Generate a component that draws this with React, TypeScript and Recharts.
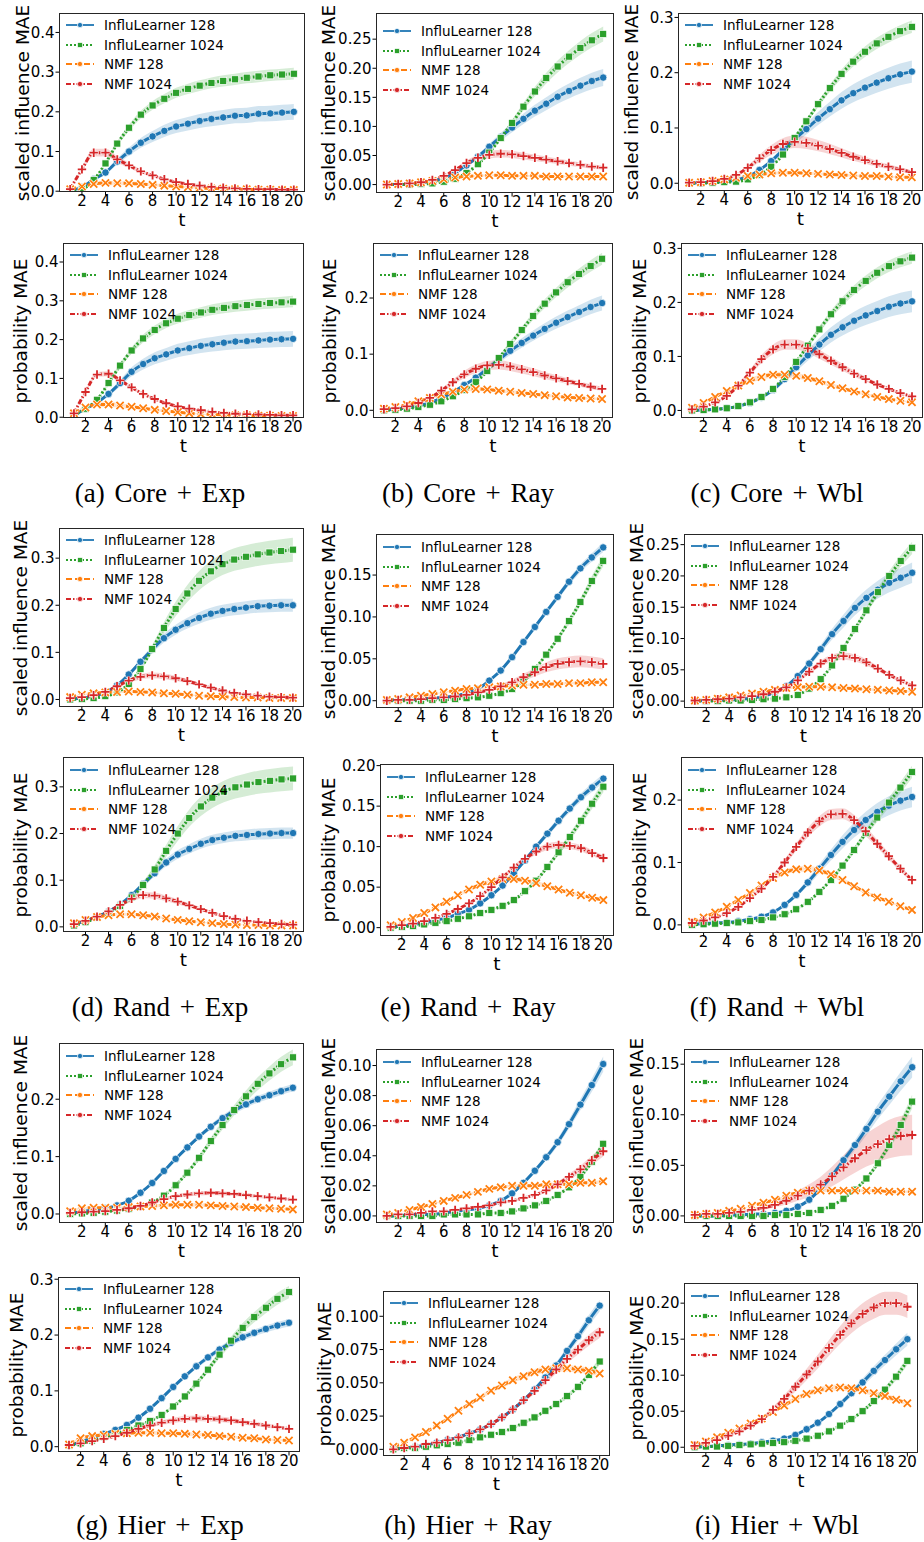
import React from 'react';
import { ComposedChart, Line, Area, XAxis, YAxis } from 'recharts';

// ---- shared axis values ----
const T = [1, 2, 3, 4, 5, 6, 7, 8, 9, 10, 11, 12, 13, 14, 15, 16, 17, 18, 19, 20];
const X_TICKS = [2, 4, 6, 8, 10, 12, 14, 16, 18, 20];

// ---- (a) Core + Exp ----
const coreExpInfIL128 = [0.002, 0.01, 0.03, 0.047, 0.075, 0.1, 0.122, 0.138, 0.152, 0.163, 0.17, 0.177, 0.182, 0.186, 0.19, 0.191, 0.195, 0.196, 0.198, 0.2];
const coreExpInfIL1024 = [0.0, 0.005, 0.028, 0.07, 0.12, 0.16, 0.193, 0.216, 0.233, 0.248, 0.258, 0.266, 0.273, 0.278, 0.282, 0.286, 0.289, 0.292, 0.294, 0.296];
const coreExpInfNMF128 = [0.005, 0.012, 0.018, 0.021, 0.02, 0.02, 0.018, 0.016, 0.014, 0.012, 0.01, 0.008, 0.007, 0.006, 0.005, 0.005, 0.004, 0.004, 0.003, 0.003];
const coreExpInfNMF1024 = [0.005, 0.055, 0.097, 0.097, 0.08, 0.065, 0.05, 0.04, 0.03, 0.023, 0.018, 0.014, 0.011, 0.009, 0.007, 0.006, 0.005, 0.005, 0.004, 0.004];
const coreExpProbIL128 = [0.005, 0.022, 0.038, 0.06, 0.088, 0.117, 0.137, 0.152, 0.162, 0.172, 0.178, 0.184, 0.188, 0.192, 0.195, 0.196, 0.198, 0.2, 0.201, 0.202];
const coreExpProbIL1024 = [0.005, 0.022, 0.045, 0.088, 0.133, 0.172, 0.203, 0.225, 0.242, 0.254, 0.263, 0.27, 0.277, 0.282, 0.286, 0.289, 0.292, 0.294, 0.296, 0.298];
const coreExpProbNMF128 = [0.01, 0.025, 0.033, 0.033, 0.03, 0.027, 0.023, 0.019, 0.016, 0.013, 0.01, 0.008, 0.007, 0.006, 0.005, 0.005, 0.004, 0.004, 0.003, 0.003];
const coreExpProbNMF1024 = [0.01, 0.065, 0.11, 0.112, 0.095, 0.077, 0.06, 0.047, 0.036, 0.028, 0.022, 0.018, 0.014, 0.011, 0.009, 0.008, 0.007, 0.006, 0.005, 0.005];

// ---- (b) Core + Ray ----
const coreRayInfIL128 = [0, 0, 0.001, 0.003, 0.006, 0.011, 0.02, 0.033, 0.048, 0.065, 0.082, 0.098, 0.113, 0.127, 0.139, 0.151, 0.161, 0.17, 0.178, 0.184];
const coreRayInfIL1024 = [0, 0, 0, 0.001, 0.002, 0.005, 0.01, 0.02, 0.035, 0.055, 0.08, 0.106, 0.134, 0.16, 0.183, 0.203, 0.22, 0.235, 0.248, 0.259];
const coreRayInfNMF128 = [0, 0.001, 0.002, 0.004, 0.006, 0.009, 0.012, 0.014, 0.015, 0.016, 0.016, 0.015, 0.015, 0.015, 0.014, 0.014, 0.014, 0.014, 0.014, 0.014];
const coreRayInfNMF1024 = [0, 0.001, 0.002, 0.004, 0.008, 0.015, 0.025, 0.037, 0.046, 0.051, 0.053, 0.052, 0.049, 0.046, 0.043, 0.04, 0.037, 0.034, 0.031, 0.029];
const coreRayProbIL128 = [0.001, 0.002, 0.004, 0.008, 0.013, 0.022, 0.032, 0.045, 0.058, 0.074, 0.09, 0.106, 0.12, 0.133, 0.145, 0.156, 0.166, 0.175, 0.184, 0.191];
const coreRayProbIL1024 = [0, 0.001, 0.003, 0.006, 0.01, 0.016, 0.025, 0.036, 0.05, 0.07, 0.093, 0.118, 0.143, 0.168, 0.19, 0.21, 0.228, 0.243, 0.257, 0.27];
const coreRayProbNMF128 = [0.003, 0.006, 0.01, 0.016, 0.022, 0.028, 0.033, 0.037, 0.038, 0.037, 0.035, 0.033, 0.031, 0.029, 0.027, 0.025, 0.023, 0.022, 0.021, 0.02];
const coreRayProbNMF1024 = [0.002, 0.004, 0.007, 0.013, 0.022, 0.035, 0.05, 0.064, 0.074, 0.08, 0.081, 0.078, 0.073, 0.068, 0.062, 0.057, 0.052, 0.047, 0.042, 0.038];

// ---- (c) Core + Wbl ----
const coreWblInfIL128 = [0, 0.001, 0.002, 0.003, 0.006, 0.012, 0.024, 0.04, 0.06, 0.08, 0.098, 0.117, 0.134, 0.15, 0.163, 0.173, 0.182, 0.19, 0.197, 0.202];
const coreWblInfIL1024 = [0, 0, 0.001, 0.002, 0.003, 0.007, 0.015, 0.03, 0.052, 0.082, 0.112, 0.143, 0.172, 0.198, 0.22, 0.238, 0.253, 0.265, 0.275, 0.283];
const coreWblInfNMF128 = [0.001, 0.002, 0.004, 0.007, 0.01, 0.013, 0.016, 0.018, 0.019, 0.019, 0.018, 0.017, 0.016, 0.015, 0.014, 0.013, 0.013, 0.012, 0.011, 0.011];
const coreWblInfNMF1024 = [0.001, 0.002, 0.004, 0.008, 0.015, 0.028, 0.045, 0.06, 0.071, 0.075, 0.073, 0.068, 0.062, 0.055, 0.048, 0.042, 0.035, 0.03, 0.025, 0.02];
const coreWblProbIL128 = [0, 0.001, 0.002, 0.004, 0.008, 0.014, 0.024, 0.038, 0.058, 0.08, 0.102, 0.122, 0.14, 0.154, 0.166, 0.176, 0.184, 0.192, 0.198, 0.202];
const coreWblProbIL1024 = [0, 0.001, 0.002, 0.004, 0.008, 0.015, 0.025, 0.04, 0.062, 0.09, 0.12, 0.15, 0.178, 0.202, 0.223, 0.24, 0.255, 0.267, 0.276, 0.283];
const coreWblProbNMF128 = [0.005, 0.014, 0.025, 0.036, 0.046, 0.055, 0.062, 0.066, 0.066, 0.064, 0.06, 0.054, 0.047, 0.041, 0.035, 0.03, 0.025, 0.021, 0.018, 0.015];
const coreWblProbNMF1024 = [0.002, 0.007, 0.015, 0.027, 0.046, 0.07, 0.095, 0.113, 0.122, 0.122, 0.115, 0.104, 0.092, 0.08, 0.068, 0.058, 0.048, 0.04, 0.032, 0.026];

// ---- (d) Rand + Exp ----
const randExpInfIL128 = [0.001, 0.003, 0.007, 0.015, 0.03, 0.053, 0.08, 0.106, 0.13, 0.148, 0.162, 0.173, 0.182, 0.188, 0.192, 0.195, 0.198, 0.199, 0.2, 0.2];
const randExpInfIL1024 = [0, 0.001, 0.003, 0.007, 0.015, 0.033, 0.065, 0.107, 0.152, 0.192, 0.225, 0.252, 0.272, 0.287, 0.297, 0.303, 0.308, 0.312, 0.315, 0.318];
const randExpInfNMF128 = [0.005, 0.01, 0.013, 0.015, 0.016, 0.017, 0.016, 0.015, 0.013, 0.012, 0.01, 0.008, 0.007, 0.006, 0.005, 0.004, 0.004, 0.003, 0.003, 0.003];
const randExpInfNMF1024 = [0.003, 0.005, 0.009, 0.016, 0.028, 0.04, 0.048, 0.051, 0.049, 0.045, 0.039, 0.032, 0.025, 0.019, 0.014, 0.011, 0.008, 0.006, 0.005, 0.004];
const randExpProbIL128 = [0.005, 0.013, 0.022, 0.033, 0.048, 0.068, 0.092, 0.115, 0.138, 0.155, 0.167, 0.178, 0.186, 0.191, 0.195, 0.197, 0.199, 0.2, 0.201, 0.201];
const randExpProbIL1024 = [0.003, 0.01, 0.02, 0.03, 0.045, 0.063, 0.09, 0.123, 0.163, 0.2, 0.233, 0.258, 0.277, 0.29, 0.299, 0.305, 0.31, 0.313, 0.316, 0.318];
const randExpProbNMF128 = [0.008, 0.015, 0.021, 0.025, 0.027, 0.027, 0.025, 0.022, 0.018, 0.015, 0.012, 0.01, 0.008, 0.006, 0.005, 0.004, 0.004, 0.003, 0.003, 0.003];
const randExpProbNMF1024 = [0.006, 0.013, 0.022, 0.033, 0.047, 0.06, 0.068, 0.067, 0.061, 0.054, 0.046, 0.038, 0.03, 0.023, 0.017, 0.013, 0.01, 0.008, 0.006, 0.005];

// ---- (e) Rand + Ray ----
const randRayInfIL128 = [0, 0.001, 0.001, 0.002, 0.003, 0.004, 0.006, 0.009, 0.014, 0.024, 0.036, 0.052, 0.07, 0.088, 0.106, 0.124, 0.142, 0.158, 0.171, 0.183];
const randRayInfIL1024 = [0, 0, 0, 0, 0.001, 0.001, 0.002, 0.003, 0.004, 0.006, 0.009, 0.014, 0.023, 0.038, 0.055, 0.074, 0.095, 0.118, 0.143, 0.167];
const randRayInfNMF128 = [0.001, 0.002, 0.004, 0.006, 0.008, 0.01, 0.012, 0.014, 0.015, 0.016, 0.017, 0.018, 0.019, 0.019, 0.02, 0.02, 0.021, 0.021, 0.022, 0.022];
const randRayInfNMF1024 = [0, 0.001, 0.001, 0.002, 0.003, 0.004, 0.005, 0.007, 0.01, 0.013, 0.017, 0.022, 0.028, 0.034, 0.04, 0.044, 0.046, 0.047, 0.046, 0.044];
const randRayProbIL128 = [0.001, 0.002, 0.004, 0.006, 0.009, 0.012, 0.017, 0.022, 0.03, 0.04, 0.052, 0.067, 0.083, 0.1, 0.116, 0.132, 0.147, 0.161, 0.173, 0.184];
const randRayProbIL1024 = [0, 0.001, 0.002, 0.004, 0.006, 0.008, 0.011, 0.014, 0.018, 0.022, 0.027, 0.034, 0.045, 0.058, 0.075, 0.093, 0.112, 0.132, 0.153, 0.174];
const randRayProbNMF128 = [0.003, 0.007, 0.012, 0.018, 0.025, 0.032, 0.04, 0.047, 0.053, 0.057, 0.06, 0.06, 0.058, 0.055, 0.051, 0.047, 0.043, 0.04, 0.037, 0.034];
const randRayProbNMF1024 = [0.001, 0.003, 0.005, 0.008, 0.012, 0.017, 0.023, 0.03, 0.039, 0.05, 0.062, 0.074, 0.085, 0.094, 0.1, 0.102, 0.101, 0.098, 0.092, 0.086];

// ---- (f) Rand + Wbl ----
const randWblInfIL128 = [0, 0.001, 0.001, 0.002, 0.003, 0.005, 0.008, 0.014, 0.024, 0.04, 0.06, 0.083, 0.107, 0.128, 0.149, 0.165, 0.178, 0.189, 0.197, 0.205];
const randWblInfIL1024 = [0, 0, 0, 0.001, 0.001, 0.002, 0.003, 0.004, 0.006, 0.01, 0.02, 0.035, 0.057, 0.085, 0.115, 0.145, 0.174, 0.2, 0.224, 0.245];
const randWblInfNMF128 = [0.001, 0.002, 0.004, 0.006, 0.009, 0.012, 0.015, 0.018, 0.021, 0.022, 0.023, 0.023, 0.022, 0.021, 0.02, 0.019, 0.018, 0.017, 0.016, 0.015];
const randWblInfNMF1024 = [0.001, 0.002, 0.003, 0.004, 0.006, 0.008, 0.011, 0.015, 0.022, 0.033, 0.047, 0.06, 0.069, 0.072, 0.069, 0.062, 0.052, 0.042, 0.033, 0.025];
const randWblProbIL128 = [0.001, 0.002, 0.003, 0.004, 0.006, 0.009, 0.013, 0.02, 0.032, 0.048, 0.068, 0.09, 0.112, 0.133, 0.152, 0.168, 0.181, 0.191, 0.199, 0.205];
const randWblProbIL1024 = [0, 0.001, 0.002, 0.003, 0.004, 0.006, 0.008, 0.012, 0.017, 0.025, 0.037, 0.053, 0.072, 0.095, 0.12, 0.147, 0.172, 0.196, 0.22, 0.245];
const randWblProbNMF128 = [0.005, 0.012, 0.02, 0.029, 0.04, 0.051, 0.063, 0.075, 0.084, 0.089, 0.09, 0.087, 0.081, 0.072, 0.062, 0.052, 0.044, 0.037, 0.03, 0.024];
const randWblProbNMF1024 = [0.003, 0.007, 0.012, 0.019, 0.029, 0.043, 0.058, 0.077, 0.1, 0.125, 0.148, 0.166, 0.177, 0.178, 0.168, 0.15, 0.13, 0.11, 0.09, 0.072];

// ---- (g) Hier + Exp ----
const hierExpInfIL128 = [0.001, 0.004, 0.007, 0.01, 0.015, 0.023, 0.037, 0.054, 0.075, 0.096, 0.116, 0.135, 0.152, 0.167, 0.18, 0.191, 0.2, 0.207, 0.214, 0.22];
const hierExpInfIL1024 = [0, 0.001, 0.002, 0.004, 0.006, 0.009, 0.013, 0.02, 0.032, 0.05, 0.072, 0.098, 0.127, 0.155, 0.181, 0.205, 0.227, 0.245, 0.261, 0.273];
const hierExpInfNMF128 = [0.005, 0.01, 0.011, 0.011, 0.011, 0.012, 0.013, 0.014, 0.015, 0.016, 0.016, 0.016, 0.015, 0.014, 0.013, 0.012, 0.011, 0.01, 0.009, 0.008];
const hierExpInfNMF1024 = [0.002, 0.003, 0.004, 0.005, 0.007, 0.01, 0.014, 0.02, 0.026, 0.031, 0.034, 0.036, 0.037, 0.036, 0.035, 0.033, 0.031, 0.029, 0.027, 0.025];
const hierExpProbIL128 = [0.003, 0.008, 0.016, 0.023, 0.03, 0.039, 0.052, 0.068, 0.087, 0.107, 0.126, 0.144, 0.16, 0.174, 0.186, 0.196, 0.204, 0.211, 0.217, 0.222];
const hierExpProbIL1024 = [0.002, 0.006, 0.011, 0.017, 0.023, 0.03, 0.038, 0.046, 0.057, 0.072, 0.09, 0.113, 0.138, 0.165, 0.19, 0.213, 0.232, 0.249, 0.265, 0.277];
const hierExpProbNMF128 = [0.004, 0.015, 0.019, 0.021, 0.023, 0.024, 0.025, 0.025, 0.024, 0.024, 0.023, 0.022, 0.021, 0.019, 0.018, 0.016, 0.015, 0.013, 0.012, 0.011];
const hierExpProbNMF1024 = [0.003, 0.006, 0.01, 0.014, 0.019, 0.025, 0.032, 0.038, 0.043, 0.047, 0.05, 0.051, 0.05, 0.049, 0.047, 0.044, 0.041, 0.038, 0.035, 0.032];

// ---- (h) Hier + Ray ----
const hierRayInfIL128 = [0, 0, 0.001, 0.001, 0.001, 0.002, 0.003, 0.004, 0.005, 0.007, 0.01, 0.015, 0.022, 0.03, 0.039, 0.049, 0.061, 0.074, 0.087, 0.101];
const hierRayInfIL1024 = [0, 0, 0, 0, 0, 0.001, 0.001, 0.001, 0.001, 0.002, 0.002, 0.003, 0.005, 0.007, 0.01, 0.014, 0.019, 0.026, 0.036, 0.048];
const hierRayInfNMF128 = [0.001, 0.002, 0.004, 0.006, 0.008, 0.01, 0.012, 0.014, 0.016, 0.018, 0.019, 0.02, 0.02, 0.02, 0.021, 0.021, 0.021, 0.022, 0.022, 0.023];
const hierRayInfNMF1024 = [0, 0.001, 0.001, 0.002, 0.003, 0.003, 0.004, 0.005, 0.006, 0.007, 0.009, 0.01, 0.012, 0.014, 0.017, 0.021, 0.026, 0.031, 0.037, 0.043];
const hierRayProbIL128 = [0, 0.001, 0.002, 0.003, 0.005, 0.007, 0.009, 0.012, 0.015, 0.019, 0.024, 0.03, 0.037, 0.045, 0.054, 0.063, 0.074, 0.085, 0.097, 0.108];
const hierRayProbIL1024 = [0, 0.001, 0.001, 0.002, 0.003, 0.004, 0.005, 0.007, 0.009, 0.011, 0.013, 0.016, 0.02, 0.024, 0.029, 0.034, 0.04, 0.047, 0.056, 0.066];
const hierRayProbNMF128 = [0.002, 0.005, 0.009, 0.013, 0.018, 0.023, 0.029, 0.034, 0.039, 0.044, 0.048, 0.052, 0.055, 0.058, 0.06, 0.061, 0.061, 0.06, 0.059, 0.057];
const hierRayProbNMF1024 = [0, 0.001, 0.002, 0.004, 0.005, 0.007, 0.009, 0.012, 0.015, 0.019, 0.024, 0.03, 0.037, 0.044, 0.052, 0.06, 0.068, 0.075, 0.082, 0.088];

// ---- (i) Hier + Wbl ----
const hierWblInfIL128 = [0, 0, 0, 0.001, 0.001, 0.002, 0.002, 0.003, 0.005, 0.009, 0.016, 0.027, 0.04, 0.055, 0.07, 0.086, 0.103, 0.118, 0.133, 0.147];
const hierWblInfIL1024 = [0, 0, 0, 0, 0, 0, 0, 0.001, 0.001, 0.002, 0.003, 0.006, 0.01, 0.017, 0.026, 0.037, 0.052, 0.07, 0.09, 0.113];
const hierWblInfNMF128 = [0.001, 0.002, 0.003, 0.005, 0.007, 0.01, 0.013, 0.016, 0.02, 0.023, 0.025, 0.025, 0.025, 0.025, 0.025, 0.025, 0.025, 0.024, 0.024, 0.024];
const hierWblInfNMF1024 = [0.001, 0.002, 0.002, 0.003, 0.004, 0.006, 0.008, 0.011, 0.015, 0.02, 0.025, 0.031, 0.039, 0.048, 0.057, 0.065, 0.071, 0.076, 0.079, 0.08];
const hierWblProbIL128 = [0, 0.001, 0.002, 0.003, 0.004, 0.005, 0.007, 0.009, 0.012, 0.017, 0.025, 0.034, 0.046, 0.06, 0.075, 0.09, 0.106, 0.121, 0.136, 0.15];
const hierWblProbIL1024 = [0, 0.001, 0.001, 0.002, 0.003, 0.004, 0.005, 0.006, 0.007, 0.009, 0.012, 0.016, 0.022, 0.03, 0.039, 0.05, 0.064, 0.08, 0.098, 0.12];
const hierWblProbNMF128 = [0.003, 0.008, 0.014, 0.02, 0.026, 0.033, 0.04, 0.049, 0.058, 0.067, 0.074, 0.079, 0.082, 0.083, 0.082, 0.079, 0.075, 0.071, 0.066, 0.061];
const hierWblProbNMF1024 = [0.002, 0.006, 0.01, 0.016, 0.022, 0.03, 0.039, 0.052, 0.067, 0.084, 0.101, 0.119, 0.138, 0.156, 0.172, 0.185, 0.194, 0.2, 0.2, 0.195];

// relative half-width of the shaded band, per series (IL128, IL1024, NMF128, NMF1024)
const coreExpInfSpread = [0.1, 0.05, 0.25, 0.1];
const coreExpProbSpread = [0.1, 0.05, 0.2, 0.06];
const coreRayInfSpread = [0.08, 0.05, 0.1, 0.12];
const coreRayProbSpread = [0.07, 0.04, 0.1, 0.1];
const coreWblInfSpread = [0.1, 0.04, 0.15, 0.15];
const coreWblProbSpread = [0.1, 0.04, 0.08, 0.08];
const randExpInfSpread = [0.07, 0.08, 0.15, 0.12];
const randExpProbSpread = [0.06, 0.08, 0.12, 0.1];
const randRayInfSpread = [0.03, 0.04, 0.08, 0.15];
const randRayProbSpread = [0.03, 0.04, 0.05, 0.04];
const randWblInfSpread = [0.08, 0.04, 0.1, 0.08];
const randWblProbSpread = [0.08, 0.04, 0.05, 0.05];
const hierExpInfSpread = [0.03, 0.05, 0.2, 0.1];
const hierExpProbSpread = [0.03, 0.04, 0.15, 0.1];
const hierRayInfSpread = [0.05, 0.06, 0.05, 0.08];
const hierRayProbSpread = [0.04, 0.04, 0.04, 0.05];
const hierWblInfSpread = [0.07, 0.06, 0.05, 0.25];
const hierWblProbSpread = [0.06, 0.05, 0.05, 0.08];

const CAPTIONS = [
  '(a) Core + Exp', '(b) Core + Ray', '(c) Core + Wbl',
  '(d) Rand + Exp', '(e) Rand + Ray', '(f) Rand + Wbl',
  '(g) Hier + Exp', '(h) Hier + Ray', '(i) Hier + Wbl',
];

// ---- styling ----
const FONT = '"DejaVu Sans", sans-serif';
const SERIES = [
  { id: 'il128', name: 'InfluLearner 128', color: '#1f77b4', dash: undefined as string | undefined, shape: 'circle' },
  { id: 'il1024', name: 'InfluLearner 1024', color: '#2ca02c', dash: '2 2', shape: 'square' },
  { id: 'nmf128', name: 'NMF 128', color: '#ff7f0e', dash: '6 3', shape: 'x' },
  { id: 'nmf1024', name: 'NMF 1024', color: '#d62728', dash: '5 2 1.5 2', shape: 'plus' },
];

const INF = 'scaled influence MAE';
const PROB = 'probability MAE';

// layout of each panel: plot box (x, y, w, h), y range, ticks, label position, legend offset
const PANELS = [
  { vals: [coreExpInfIL128, coreExpInfIL1024, coreExpInfNMF128, coreExpInfNMF1024], spread: coreExpInfSpread, label: INF, x: 59, y: 13, w: 246, h: 179, ymin: -0.002, ymax: 0.449, ticks: [0, 0.1, 0.2, 0.3, 0.4], dec: 1, lx: 23, ly: 12 },
  { vals: [coreRayInfIL128, coreRayInfIL1024, coreRayInfNMF128, coreRayInfNMF1024], spread: coreRayInfSpread, label: INF, x: 376, y: 13, w: 238, h: 180, ymin: -0.0145, ymax: 0.295, ticks: [0, 0.05, 0.1, 0.15, 0.2, 0.25], dec: 2, lx: 329, ly: 18 },
  { vals: [coreWblInfIL128, coreWblInfIL1024, coreWblInfNMF128, coreWblInfNMF1024], spread: coreWblInfSpread, label: INF, x: 678, y: 13, w: 245, h: 178, ymin: -0.014, ymax: 0.308, ticks: [0, 0.1, 0.2, 0.3], dec: 1, lx: 632, ly: 12 },
  { vals: [coreExpProbIL128, coreExpProbIL1024, coreExpProbNMF128, coreExpProbNMF1024], spread: coreExpProbSpread, label: PROB, x: 63, y: 243, w: 241, h: 175, ymin: -0.002, ymax: 0.449, ticks: [0, 0.1, 0.2, 0.3, 0.4], dec: 1, lx: 21, ly: 12 },
  { vals: [coreRayProbIL128, coreRayProbIL1024, coreRayProbNMF128, coreRayProbNMF1024], spread: coreRayProbSpread, label: PROB, x: 373, y: 243, w: 240, h: 175, ymin: -0.0137, ymax: 0.298, ticks: [0, 0.1, 0.2], dec: 1, lx: 330, ly: 12 },
  { vals: [coreWblProbIL128, coreWblProbIL1024, coreWblProbNMF128, coreWblProbNMF1024], spread: coreWblProbSpread, label: PROB, x: 681, y: 243, w: 242, h: 175, ymin: -0.014, ymax: 0.31, ticks: [0, 0.1, 0.2, 0.3], dec: 1, lx: 640, ly: 12 },

  { vals: [randExpInfIL128, randExpInfIL1024, randExpInfNMF128, randExpInfNMF1024], spread: randExpInfSpread, label: INF, x: 59, y: 528, w: 245, h: 179, ymin: -0.016, ymax: 0.364, ticks: [0, 0.1, 0.2, 0.3], dec: 1, lx: 21, ly: 12 },
  { vals: [randRayInfIL128, randRayInfIL1024, randRayInfNMF128, randRayInfNMF1024], spread: randRayInfSpread, label: INF, x: 376, y: 534, w: 238, h: 174, ymin: -0.0087, ymax: 0.199, ticks: [0, 0.05, 0.1, 0.15], dec: 2, lx: 329, ly: 13 },
  { vals: [randWblInfIL128, randWblInfIL1024, randWblInfNMF128, randWblInfNMF1024], spread: randWblInfSpread, label: INF, x: 684, y: 534, w: 239, h: 174, ymin: -0.011, ymax: 0.267, ticks: [0, 0.05, 0.1, 0.15, 0.2, 0.25], dec: 2, lx: 637, ly: 12 },
  { vals: [randExpProbIL128, randExpProbIL1024, randExpProbNMF128, randExpProbNMF1024], spread: randExpProbSpread, label: PROB, x: 63, y: 757, w: 241, h: 175, ymin: -0.011, ymax: 0.364, ticks: [0, 0.1, 0.2, 0.3], dec: 1, lx: 21, ly: 13 },
  { vals: [randRayProbIL128, randRayProbIL1024, randRayProbNMF128, randRayProbNMF1024], spread: randRayProbSpread, label: PROB, x: 380, y: 764, w: 234, h: 172, ymin: -0.0103, ymax: 0.202, ticks: [0, 0.05, 0.1, 0.15, 0.2], dec: 2, lx: 329, ly: 13 },
  { vals: [randWblProbIL128, randWblProbIL1024, randWblProbNMF128, randWblProbNMF1024], spread: randWblProbSpread, label: PROB, x: 681, y: 757, w: 242, h: 176, ymin: -0.013, ymax: 0.269, ticks: [0, 0.1, 0.2], dec: 1, lx: 640, ly: 13 },

  { vals: [hierExpInfIL128, hierExpInfIL1024, hierExpInfNMF128, hierExpInfNMF1024], spread: hierExpInfSpread, label: INF, x: 59, y: 1043, w: 245, h: 180, ymin: -0.0157, ymax: 0.298, ticks: [0, 0.1, 0.2], dec: 1, lx: 21, ly: 13 },
  { vals: [hierRayInfIL128, hierRayInfIL1024, hierRayInfNMF128, hierRayInfNMF1024], spread: hierRayInfSpread, label: INF, x: 376, y: 1049, w: 238, h: 174, ymin: -0.0047, ymax: 0.111, ticks: [0, 0.02, 0.04, 0.06, 0.08, 0.1], dec: 2, lx: 329, ly: 13 },
  { vals: [hierWblInfIL128, hierWblInfIL1024, hierWblInfNMF128, hierWblInfNMF1024], spread: hierWblInfSpread, label: INF, x: 684, y: 1049, w: 239, h: 174, ymin: -0.007, ymax: 0.165, ticks: [0, 0.05, 0.1, 0.15], dec: 2, lx: 637, ly: 13 },
  { vals: [hierExpProbIL128, hierExpProbIL1024, hierExpProbNMF128, hierExpProbNMF1024], spread: hierExpProbSpread, label: PROB, x: 58, y: 1277, w: 242, h: 175, ymin: -0.0095, ymax: 0.304, ticks: [0, 0.1, 0.2, 0.3], dec: 1, lx: 17, ly: 12 },
  { vals: [hierRayProbIL128, hierRayProbIL1024, hierRayProbNMF128, hierRayProbNMF1024], spread: hierRayProbSpread, label: PROB, x: 383, y: 1291, w: 227, h: 165, ymin: -0.005, ymax: 0.119, ticks: [0, 0.025, 0.05, 0.075, 0.1], dec: 3, lx: 325, ly: 12 },
  { vals: [hierWblProbIL128, hierWblProbIL1024, hierWblProbNMF128, hierWblProbNMF1024], spread: hierWblProbSpread, label: PROB, x: 684, y: 1283, w: 234, h: 170, ymin: -0.008, ymax: 0.228, ticks: [0, 0.05, 0.1, 0.15, 0.2], dec: 2, lx: 637, ly: 13 },
];

const CAPTION_X = [160, 468, 777];
const CAPTION_Y = [493, 1007, 1525];

function markerShape(shape: string, cx: number, cy: number, color: string, k: string, small = false) {
  const s = small ? 0.7 : 1;
  if (shape === 'circle') return <circle key={k} cx={cx} cy={cy} r={3.7 * s} fill={color} stroke="#fff" strokeWidth={0.7} />;
  if (shape === 'square') {
    const a = 3.5 * s;
    return <rect key={k} x={cx - a} y={cy - a} width={2 * a} height={2 * a} fill={color} stroke="#fff" strokeWidth={0.7} />;
  }
  const a = 3.6 * s;
  const d = shape === 'x'
    ? `M${cx - a},${cy - a}L${cx + a},${cy + a}M${cx - a},${cy + a}L${cx + a},${cy - a}`
    : `M${cx - a - 0.6},${cy}L${cx + a + 0.6},${cy}M${cx},${cy - a - 0.6}L${cx},${cy + a + 0.6}`;
  return (
    <g key={k}>
      <path d={d} stroke="#fff" strokeWidth={3.2} />
      <path d={d} stroke={color} strokeWidth={1.8} />
    </g>
  );
}

const dotFor = (shape: string, color: string) => (p: any) => {
  const k = `m${p.index}`;
  if (p.cx == null || p.cy == null || !isFinite(p.cx) || !isFinite(p.cy)) return <g key={k} />;
  return markerShape(shape, p.cx, p.cy, color, k);
};

function Panel({ cfg }: { cfg: (typeof PANELS)[number] }) {
  const rows = T.map((t, i) => {
    const row: any = { t };
    SERIES.forEach((s, k) => {
      const v = cfg.vals[k][i];
      row[s.id] = v;
      row[s.id + 'Band'] = [v * (1 - cfg.spread[k]), v * (1 + cfg.spread[k])];
    });
    return row;
  });
  const PADL = 70, PADT = 6, PADB = 42, PADR = 4;
  return (
    <>
      <div style={{ position: 'absolute', left: cfg.x - PADL, top: cfg.y - PADT }}>
        <ComposedChart width={cfg.w + PADL + PADR} height={cfg.h + PADT + PADB} data={rows} margin={{ top: PADT, right: PADR, bottom: 0, left: 0 }}>
          <XAxis
            dataKey="t"
            type="number"
            domain={[0.05, 20.95]}
            ticks={X_TICKS}
            interval={0}
            allowDataOverflow
            height={PADB}
            axisLine={false}
            tickLine={{ stroke: '#000' }}
            tickSize={3.5}
            tickMargin={0}
            tick={{ fill: '#000', fontSize: 15, fontFamily: FONT }}
          />
          <YAxis
            type="number"
            domain={[cfg.ymin, cfg.ymax]}
            ticks={cfg.ticks}
            interval={0}
            allowDataOverflow
            width={PADL}
            axisLine={false}
            tickLine={{ stroke: '#000' }}
            tickSize={3.5}
            tickMargin={1}
            tickFormatter={(v: number) => v.toFixed(cfg.dec)}
            tick={{ fill: '#000', fontSize: 15, fontFamily: FONT }}
          />
          {SERIES.map((s) => (
            <Area key={s.id + 'b'} dataKey={s.id + 'Band'} type="monotone" stroke="none" fill={s.color} fillOpacity={0.2} dot={false} activeDot={false} isAnimationActive={false} />
          ))}
          {SERIES.map((s) => (
            <Line key={s.id} dataKey={s.id} type="monotone" stroke={s.color} strokeWidth={3} strokeDasharray={s.dash} dot={dotFor(s.shape, s.color)} activeDot={false} isAnimationActive={false} />
          ))}
        </ComposedChart>
      </div>
      {/* axes frame */}
      <div style={{ position: 'absolute', left: cfg.x, top: cfg.y, width: cfg.w, height: cfg.h, border: '1px solid #262626', boxSizing: 'border-box', pointerEvents: 'none' }} />
      {/* legend */}
      <div style={{ position: 'absolute', left: cfg.x + 6, top: cfg.y + cfg.ly - 9.75, fontFamily: FONT, fontSize: 13.5, color: '#000' }}>
        {SERIES.map((s) => (
          <div key={s.id} style={{ display: 'flex', alignItems: 'center', height: 19.5, whiteSpace: 'nowrap' }}>
            <svg width={30} height={12} style={{ display: 'block' }}>
              <line x1={1} x2={29} y1={6} y2={6} stroke={s.color} strokeWidth={1.8} strokeDasharray={s.dash} />
              {markerShape(s.shape === 'square' ? 'square' : 'circle', 15, 6, s.color, 'lm', true)}
            </svg>
            <span style={{ marginLeft: 9 }}>{s.name}</span>
          </div>
        ))}
      </div>
      {/* y label */}
      <div style={{ position: 'absolute', left: cfg.lx, top: cfg.y + cfg.h / 2, transform: 'translate(-50%, -50%) rotate(-90deg)', whiteSpace: 'nowrap', fontFamily: FONT, fontSize: 18.5, lineHeight: 1, color: '#000' }}>
        {cfg.label}
      </div>
      {/* x label */}
      <div style={{ position: 'absolute', left: cfg.x + cfg.w / 2, top: cfg.y + cfg.h + 28, transform: 'translate(-50%, -50%)', fontFamily: FONT, fontSize: 18.5, lineHeight: 1, color: '#000' }}>
        t
      </div>
    </>
  );
}

export default function App() {
  return (
    <div style={{ position: 'absolute', left: 0, top: 0, width: 924, height: 1542, background: '#fff', overflow: 'hidden' }}>
      {PANELS.map((p, i) => (
        <Panel key={i} cfg={p} />
      ))}
      {CAPTIONS.map((c, i) => (
        <div
          key={c}
          style={{
            position: 'absolute',
            left: CAPTION_X[i % 3],
            top: CAPTION_Y[Math.floor(i / 3)],
            transform: 'translate(-50%, -50%)',
            whiteSpace: 'nowrap',
            fontFamily: '"Liberation Serif", serif',
            fontSize: 27,
            wordSpacing: 3,
            lineHeight: 1,
            color: '#000',
          }}
        >
          {c}
        </div>
      ))}
    </div>
  );
}
